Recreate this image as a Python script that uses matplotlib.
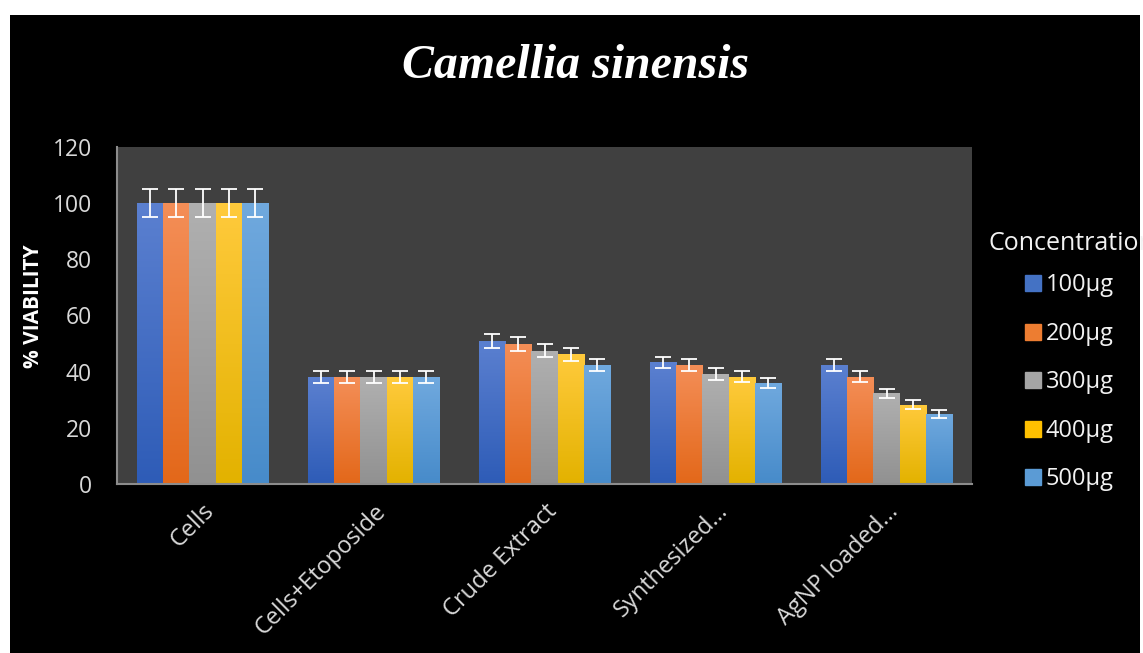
import numpy as np
import matplotlib.pyplot as plt
from matplotlib.colors import LinearSegmentedColormap
from matplotlib.patches import Rectangle
from matplotlib.lines import Line2D

# data
categories = ["Cells", "Cells+Etoposide", "Crude Extract", "Synthesized...", "AgNP loaded..."]
conc_labels = ["100µg", "200µg", "300µg", "400µg", "500µg"]

v100 = [100, 38, 51, 43.3, 42.4]
v200 = [100, 38, 50, 42.4, 38.2]
v300 = [100, 38, 47.4, 39.2, 32.3]
v400 = [100, 38, 46.2, 38.2, 28.2]
v500 = [100, 38, 42.4, 36.1, 25]

e100 = [5, 2.1, 2.5, 2.1, 2.1]
e200 = [5, 2.1, 2.5, 2.1, 2.0]
e300 = [5, 2.1, 2.3, 2.0, 1.7]
e400 = [5, 2.1, 2.4, 2.0, 1.6]
e500 = [5, 2.1, 2.1, 1.8, 1.4]

values = [v100, v200, v300, v400, v500]
errors = [e100, e200, e300, e400, e500]

# (top colour, bottom colour, legend colour)
colors = [("#5b80d0", "#2e5cb7", "#4472c4"),
          ("#f48e57", "#e3681a", "#ed7d31"),
          ("#b0b0b0", "#919191", "#a5a5a5"),
          ("#ffca3c", "#e3b200", "#ffc000"),
          ("#70a9de", "#478bca", "#5b9bd5")]

plt.rcParams['font.family'] = ['Open Sans', 'DejaVu Sans']

fig = plt.figure(figsize=(11.43, 6.53), dpi=100)
fig.patch.set_facecolor("white")
fig.patches.append(Rectangle((10 / 1143, 0), 1130 / 1143, 638 / 653,
                             transform=fig.transFigure, facecolor="black",
                             edgecolor="none", zorder=-10))

ax = fig.add_axes([117 / 1143, 1 - 484 / 653, 855 / 1143, 337 / 653])
ax.set_facecolor("#404040")

x = np.arange(len(categories))
w = 0.154
grad = np.linspace(0, 1, 100).reshape(-1, 1)
for i, (vals, errs) in enumerate(zip(values, errors)):
    pos = x + (i - 2) * w
    top, bot, _ = colors[i]
    cmap = LinearSegmentedColormap.from_list("c%d" % i, [bot, top])
    bars = ax.bar(pos, vals, w, color="none", edgecolor="none", zorder=2)
    for b in bars:
        bx, by = b.get_x(), b.get_y()
        im = ax.imshow(grad, cmap=cmap, origin="lower", aspect="auto",
                       extent=[bx, bx + b.get_width(), by, by + b.get_height()],
                       zorder=2)
        im.set_clip_path(b)
    ax.errorbar(pos, vals, yerr=errs, fmt="none", ecolor="white",
                elinewidth=1.3, capsize=6, capthick=1.3, zorder=3)

ax.set_xlim(-0.5, len(categories) - 0.5)
ax.set_ylim(0, 120)
ax.set_yticks(range(0, 121, 20))
ax.set_xticks(x)
ax.set_xticklabels(categories, rotation=45, ha="right", va="top",
                   rotation_mode="anchor")
ax.tick_params(axis="y", length=0, pad=18, labelsize=16.5, labelcolor="#d9d9d9")
ax.tick_params(axis="x", length=0, pad=11, labelsize=17, labelcolor="#d9d9d9")

for s in ["top", "right"]:
    ax.spines[s].set_visible(False)
for s in ["left", "bottom"]:
    ax.spines[s].set_color("#8c8c8c")
    ax.spines[s].set_linewidth(1.5)

ax.set_ylabel("% VIABILITY", fontsize=15, fontweight="bold", color="white")
ax.yaxis.set_label_coords(-0.085, 0.528)

fig.text(576 / 1143, 1 - 66 / 653, "Camellia sinensis", ha="center", va="center",
         fontsize=34.5, fontweight="bold", fontstyle="italic", color="white",
         family="Liberation Serif")

# legend title runs off the right edge, as in the original
fig.text(988 / 1143, 1 - 243 / 653, "Concentration", ha="left", va="center",
         fontsize=18, color="#f2f2f2")

handles = [Line2D([], [], marker="s", linestyle="none", markersize=11,
                  markerfacecolor=c[2], markeredgecolor=c[2]) for c in colors]
leg = fig.legend(handles, conc_labels, loc="upper left",
                 bbox_to_anchor=(1002 / 1143, 1 - 252 / 653),
                 frameon=False, fontsize=17, labelcolor="#f2f2f2",
                 handlelength=0.8, handletextpad=0.15, labelspacing=1.04)

fig.savefig("out.png", dpi=100, facecolor="white")
